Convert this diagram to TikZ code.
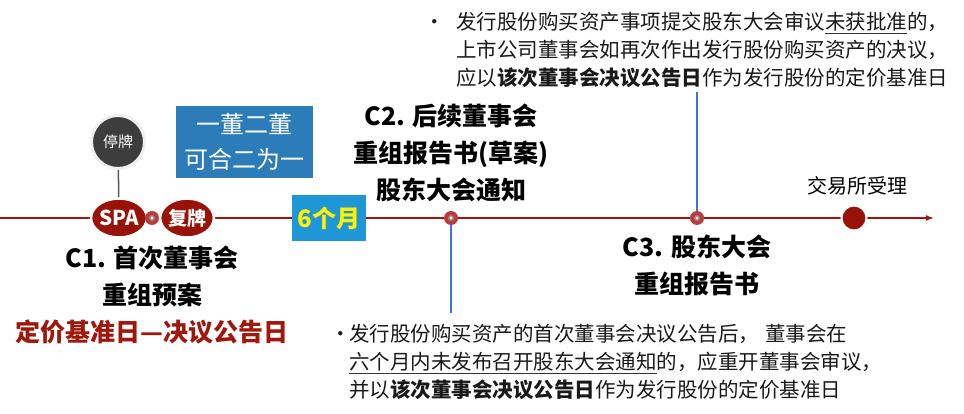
\documentclass[tikz,border=0pt]{standalone}
\usepackage{fontspec}
\setmainfont{Noto Sans CJK SC}
\usetikzlibrary{arrows.meta,shadows,backgrounds,shapes.geometric}
\definecolor{tlred}{HTML}{A3140C}
\definecolor{ovalred}{HTML}{981208}
\definecolor{dotred}{HTML}{BC3A3C}
\definecolor{c1red}{HTML}{A0180C}
\definecolor{boxblue}{HTML}{2B7CB8}
\definecolor{monthblue}{HTML}{1F97D7}
\definecolor{monthyellow}{HTML}{FFF200}
\definecolor{lineblue}{HTML}{3D73E0}
\definecolor{discgray}{HTML}{3D3D3D}
\newcommand\myul[1]{\setbox0\hbox{#1}\rlap{\color{black!80}\rule[-4.5pt]{\wd0}{1.2pt}}\box0}
\tikzset{
  tline/.style={draw=tlred, line width=1.5pt, -{Latex[length=8pt,width=6pt]}},
  grayline/.style={draw=black!65, line width=1.5pt},
  bline/.style={draw=lineblue, line width=1.2pt},
  graydisc/.style={circle, fill=discgray, draw=black!6, line width=3pt, minimum size=53pt, inner sep=0pt,
    text=white, font=\fontsize{15}{15}\selectfont},
  redoval/.style={ellipse, fill=ovalred, draw=white, line width=2.5pt, minimum width=51pt, minimum height=39pt,
    inner sep=0pt, text=white, font=\bfseries\fontsize{19}{19}\selectfont,
    drop shadow={opacity=0.18, shadow xshift=0.8pt, shadow yshift=-0.8pt}},
  smalldot/.style={circle, fill=dotred, minimum size=14pt, inner sep=0pt,
    path picture={\fill[black!45] (path picture bounding box.center) circle (3pt);
      \fill[black!8] (path picture bounding box.center) circle (1.6pt);}},
  bigdot/.style={circle, fill=ovalred, draw=white, line width=2pt, minimum size=25pt, inner sep=0pt,
    drop shadow={opacity=0.3, shadow xshift=0.8pt, shadow yshift=-0.8pt}},
  bluebox/.style={rectangle, fill=boxblue, minimum width=137pt, minimum height=72pt, inner sep=0pt,
    text=white, align=center, font=\fontsize{24}{35}\selectfont},
  monthbox/.style={rectangle, fill=monthblue, minimum width=74pt, minimum height=46pt, inner sep=0pt,
    text=monthyellow, font=\bfseries\fontsize{24}{24}\selectfont},
  heading/.style={align=center, inner sep=0pt, text=black, font=\bfseries\fontsize{25}{37}\selectfont},
  note/.style={align=left, inner sep=0pt, text=black!90, font=\fontsize{20.5}{28}\selectfont},
  lbl/.style={inner sep=0pt, text=black, font=\fontsize{20}{20}\selectfont},
}
\begin{document}
\begin{tikzpicture}[x=1pt,y=-1pt]
\useasboundingbox (0,0) rectangle (964,414);
% nodes
\node[graydisc] (tingpai) at (118,142) {停牌};
\node[redoval, font=\bfseries\fontsize{20.5}{20.5}\selectfont] (spa) at (119,218) {SPA};
\node[smalldot] (dot1) at (152,218) {};
\node[redoval] (fupai) at (187,218) {复牌};
\node[bluebox] (yidong) at (244.5,142) {一董二董\\可合二为一};
\node[monthbox] (six) at (329,218) {6个月};
\node[heading] (c1) at (152,295) {C1. 首次董事会\\重组预案\\\textcolor{c1red}{定价基准日—决议公告日}};
\node[heading] (c2) at (451,153) {C2. 后续董事会\\重组报告书(草案)\\股东大会通知};
\node[smalldot] (dot2) at (451,218) {};
\node[smalldot] (dot3) at (697,218) {};
\node[heading] (c3) at (697,265) {C3. 股东大会\\重组报告书};
\node[lbl] (jiaoyi) at (857,186) {交易所受理};
\node[bigdot] (dot4) at (854,218) {};
\node[note, anchor=north west] (note1) at (456,12) {\llap{\makebox[32pt][l]{•}}发行股份购买资产事项提交股东大会审议\myul{未获批准}的，\\
上市公司董事会如再次作出发行股份购买资产的决议，\\
应以\textbf{该次董事会决议公告日}作为发行股份的定价基准日};
\node[note, anchor=north west] (note2) at (349,324) {\llap{\makebox[19pt][l]{•}}发行股份购买资产的首次董事会决议公告后，\hspace{6pt}董事会在\\
\myul{六个月内未发布召开股东大会通知}的，应重开董事会审议，\\
并以\textbf{该次董事会决议公告日}作为发行股份的定价基准日};
\coordinate (tlstart) at (0,218);
\coordinate (tlend) at (934,218);
\coordinate (n1end) at (697,92);
\coordinate (n2end) at (451,313);
% connectors
\begin{pgfonlayer}{background}
\draw[tline] (tlstart) -- (tlend);
\draw[grayline] (tingpai) -- (spa);
\draw[bline] (dot3.center) -- (n1end);
\draw[bline] (dot2.center) -- (n2end);
\end{pgfonlayer}
\end{tikzpicture}
\end{document}
